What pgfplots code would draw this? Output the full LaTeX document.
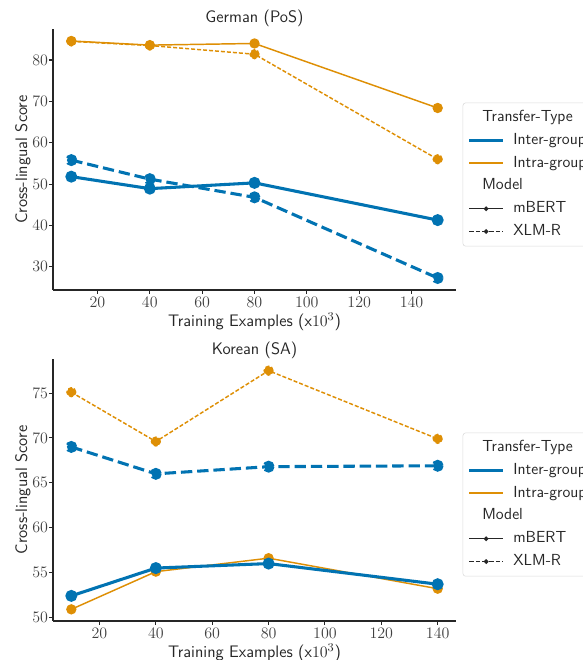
\documentclass[border=0pt]{standalone}
\usepackage{pgfplots}
\pgfplotsset{compat=1.18}
\renewcommand{\familydefault}{\sfdefault}

\definecolor{cbblue}{HTML}{0173B2}
\definecolor{cborange}{HTML}{DE8F05}
\definecolor{ink}{gray}{0.15}

\pgfplotsset{
  panel/.style={
    scale only axis, width=302.25pt,
    axis lines*=left, axis line style={-, ink, line width=0.9pt},
    tick align=outside, major tick length=3pt,
    tick style={ink, line width=0.8pt},
    tick label style={font=\fontsize{11.5}{13}\selectfont, text=black!75, inner sep=0.5pt},
    xticklabel style={yshift=-1.8pt},
    label style={font=\fontsize{12.5}{14}\selectfont, text=ink, inner sep=1pt},
    xtick={20,40,...,140},
    xlabel={Training Examples (x$10^{3}$)},
    ylabel={Cross-lingual Score},
    ylabel style={at={(axis description cs:-0.075,0.5)}, anchor=center},
    legend cell align=left,
    legend style={anchor=north west, draw=black!15, rounded corners=2pt,
      fill=white, inner sep=3.5pt, row sep=2.1pt, column sep=0pt,
      font=\fontsize{12}{14}\selectfont, text=ink,
      nodes={inner sep=2pt, text height=8.5pt, text depth=2.5pt}},
    legend image code/.code={
      \draw[mark repeat=2, mark phase=2, #1]
        plot coordinates {(0pt,0pt) (12.75pt,0pt) (25.5pt,0pt)};
      \path (30pt,0pt);},
  },
  dot/.style={mark=*, mark size=3.3pt,
    mark options={solid, draw=white, line width=0.6pt}},
  inter/.style={cbblue, line width=2.3pt, dot, mark options={fill=cbblue}},
  intra/.style={cborange, line width=1.1pt, dot, mark options={fill=cborange}},
  interx/.style={inter, dash pattern=on 8.5pt off 3.7pt},
  intrax/.style={intra, dash pattern=on 3pt off 1.5pt},
}

\newcommand{\legendblock}{%
  \addlegendimage{empty legend}\addlegendentry{\hspace*{-23.25pt}Transfer-Type}
  \addlegendimage{cbblue, line width=2.3pt}\addlegendentry{Inter-group}
  \addlegendimage{cborange, line width=1.1pt}\addlegendentry{Intra-group}
  \addlegendimage{empty legend}\addlegendentry{\hspace*{-23.25pt}Model}
  \addlegendimage{ink, line width=1pt, mark=*, mark size=1.2pt}\addlegendentry{mBERT}
  \addlegendimage{ink, line width=1pt, dash pattern=on 3.5pt off 1.5pt,
    mark=*, mark size=1.2pt, mark options={solid}}\addlegendentry{XLM-R}
}

\begin{document}
\begin{tikzpicture}

% German (PoS)
\begin{axis}[panel, at={(39.75pt,277.5pt)}, anchor=south west,
    height=195.75pt,
    xmin=3, xmax=157, ymin=24.4, ymax=87.5,
    ytick={30,40,...,80},
    title={German (PoS)},
    every axis title/.style={at={(axis description cs:0.5,1.042)}, anchor=center,
      font=\fontsize{12.5}{14}\selectfont, text=ink},
    xlabel style={at={(axis description cs:0.5,-0.121)}, anchor=center},
    legend style={at={(axis description cs:1.0166,0.718)}}]
  \addplot[intra, forget plot] coordinates {(10,84.6) (40,83.6) (80,84.0) (150,68.4)};
  \addplot[intrax, forget plot] coordinates {(10,84.5) (40,83.5) (80,81.4) (150,56.0)};
  \addplot[inter, forget plot] coordinates {(10,51.8) (40,48.9) (80,50.3) (150,41.3)};
  \addplot[interx, forget plot] coordinates {(10,55.8) (40,51.2) (80,46.8) (150,27.3)};
  \legendblock
\end{axis}

% Korean (SA)
\begin{axis}[panel, at={(39.75pt,29.25pt)}, anchor=south west,
    height=196.5pt,
    xmin=3.5, xmax=146.5, ymin=49.6, ymax=78.8,
    ytick={50,55,...,75},
    title={Korean (SA)},
    every axis title/.style={at={(axis description cs:0.5,1.034)}, anchor=center,
      font=\fontsize{12.5}{14}\selectfont, text=ink},
    xlabel style={at={(axis description cs:0.5,-0.12)}, anchor=center},
    legend style={at={(axis description cs:1.0166,0.719)}}]
  \addplot[intrax, forget plot] coordinates {(10,75.1) (40,69.6) (80,77.5) (140,69.9)};
  \addplot[interx, forget plot] coordinates {(10,69.0) (40,66.0) (80,66.8) (140,66.9)};
  \addplot[intra, forget plot] coordinates {(10,50.9) (40,55.1) (80,56.6) (140,53.2)};
  \addplot[inter, forget plot] coordinates {(10,52.4) (40,55.5) (80,56.0) (140,53.7)};
  \legendblock
\end{axis}

\pgfresetboundingbox
\path[use as bounding box] (0,0) rectangle (436.5pt,495pt);
\end{tikzpicture}
\end{document}
